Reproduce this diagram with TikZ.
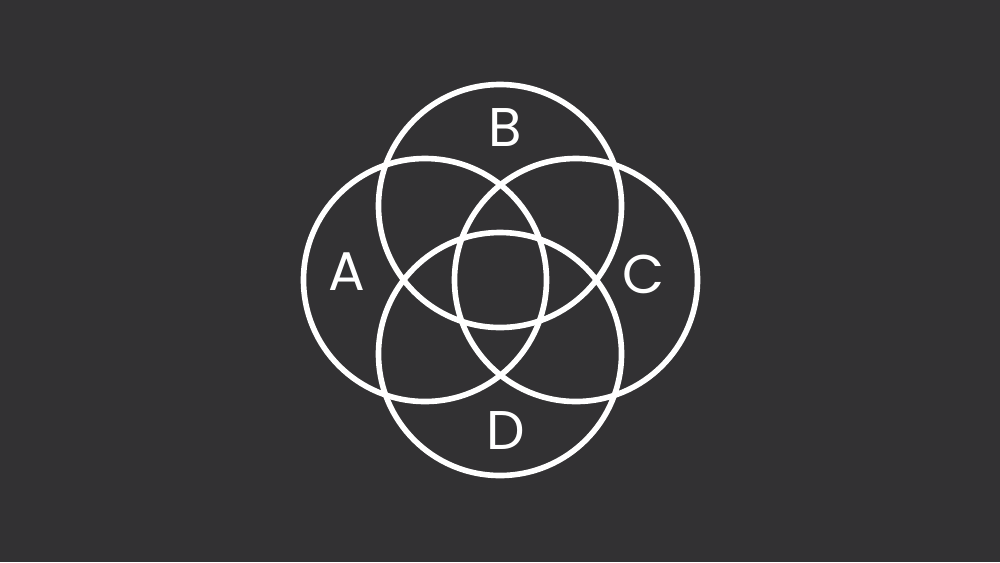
\documentclass[tikz,border=0pt]{standalone}
\usepackage{fontspec}
\setmainfont{Poppins}
\usetikzlibrary{positioning}

\definecolor{bgdark}{RGB}{50,49,51}

\begin{document}
\begin{tikzpicture}[
    ring/.style={circle, draw=white, line width=1.6pt, minimum size=2.43cm, inner sep=0pt, outer sep=0pt},
    letter/.style={text=white, font=\fontsize{15.5}{18}\selectfont, inner sep=0pt}
]
    \fill [bgdark] (-5,-2.82) rectangle (5,2.80);
    \useasboundingbox (-5,-2.82) rectangle (5,2.80);

    \node [ring] (ringA) at (-0.75,0) {};
    \node [ring] (ringB) at (0,0.74) {};
    \node [ring] (ringC) at (0.76,0) {};
    \node [ring] (ringD) at (0,-0.74) {};

    \node [letter] (A) at (-1.53,0.08) {A};
    \node [letter] (B) at (0.05,1.52) {B};
    \node [letter] (C) at (1.44,0.06) {C};
    \node [letter] (D) at (0.06,-1.50) {D};
\end{tikzpicture}
\end{document}
